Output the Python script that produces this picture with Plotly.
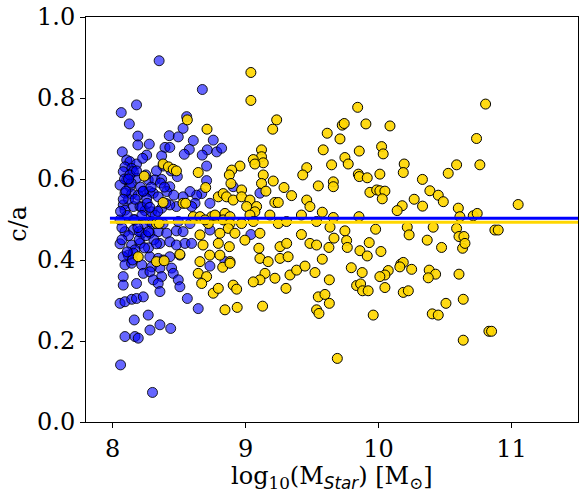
import plotly.graph_objects as go

blue_x = [8.35,8.675,8.18,8.065,8.126,8.557,8.53,8.19,8.19,8.276,8.426,8.494,8.607,8.757,8.394,8.43,8.577,8.539,8.712,8.674,
8.783,8.073,8.256,8.369,8.106,8.13,8.18,8.093,8.144,8.226,8.487,8.38,8.707,8.08,8.156,8.106,8.18,8.268,8.319,8.369,
8.43,8.407,8.707,8.67,8.632,8.582,8.53,8.732,8.056,8.13,8.093,8.144,8.193,8.23,8.28,8.306,8.343,8.256,8.48,8.43,
8.369,8.62,8.595,8.08,8.093,8.156,8.206,8.244,8.294,8.093,8.156,8.219,8.28,8.343,8.407,8.48,8.53,8.056,8.168,8.28,
8.494,8.582,8.82,8.907,9.108,8.732,9.04,
8.056,8.143,8.206,8.168,8.118,8.08,8.156,8.356,8.43,8.48,8.544,8.594,8.28,8.343,8.381,8.43,8.506,8.093,8.143,8.219,
8.231,8.294,8.281,8.356,8.369,8.444,8.456,8.494,8.506,8.08,8.08,8.18,8.306,8.343,8.356,8.056,8.093,8.144,8.18,8.231,
8.562,8.644,8.163,8.268,8.356,8.281,8.437,8.093,8.168,8.193,8.06,8.30,8.732,8.845,
8.12,8.21,8.25,8.33,8.07,8.11,8.24,8.31,8.38,8.40,8.46,8.20,8.27,8.12,8.36,8.44,8.10,8.06,8.15,8.22,
8.09,8.14,8.17,8.23,8.26,8.29,8.32,8.07,8.11,8.16,8.20,8.25,8.30,8.34,8.08,8.13,8.19,8.24,8.28,8.12,8.18,8.22,8.27,8.33,8.39]
blue_y = [0.892,0.821,0.783,0.764,0.736,0.754,0.725,0.706,0.684,0.686,0.707,0.704,0.695,0.696,0.678,0.678,0.673,0.661,0.672,0.659,
0.667,0.667,0.659,0.657,0.647,0.643,0.637,0.630,0.626,0.651,0.606,0.632,0.632,0.618,0.618,0.598,0.602,0.598,0.598,0.599,
0.581,0.569,0.596,0.564,0.560,0.569,0.556,0.540,0.585,0.581,0.565,0.563,0.560,0.569,0.569,0.565,0.556,0.552,0.532,0.536,
0.528,0.540,0.532,0.536,0.523,0.532,0.532,0.522,0.519,0.470,0.474,0.466,0.466,0.470,0.466,0.472,0.470,0.499,0.499,0.495,
0.495,0.490,0.676,0.581,0.565,0.474,0.463,
0.440,0.437,0.441,0.425,0.412,0.408,0.417,0.441,0.445,0.437,0.441,0.441,0.408,0.404,0.400,0.408,0.412,0.388,0.392,0.388,
0.367,0.383,0.371,0.380,0.359,0.380,0.367,0.351,0.334,0.359,0.338,0.342,0.351,0.342,0.322,0.293,0.297,0.303,0.305,0.309,
0.305,0.280,0.252,0.264,0.240,0.227,0.231,0.211,0.211,0.207,0.141,0.073,0.385,0.396,
0.55,0.58,0.61,0.62,0.48,0.51,0.49,0.45,0.49,0.54,0.56,0.45,0.43,0.46,0.59,0.62,0.57,0.52,0.40,0.53,
0.60,0.59,0.55,0.57,0.54,0.58,0.51,0.45,0.42,0.50,0.47,0.46,0.49,0.52,0.55,0.61,0.48,0.43,0.53,0.60,0.62,0.51,0.47,0.44,0.58]

gold_x = [8.562,8.71,8.38,8.42,8.456,8.48,8.644,8.238,8.70,8.795,8.38,8.53,8.55,8.607,8.657,8.745,8.783,8.33,8.35,8.72,8.657,
8.193,8.33,8.388,8.506,8.68,8.73,8.657,8.644,8.707,8.67,8.757,8.795,8.795,
9.04,9.04,9.234,9.204,9.12,9.12,9.058,9.133,9.07,8.958,8.896,8.878,9.46,9.43,9.547,9.133,9.12,9.208,9.153,9.289,9.346,
8.89,8.832,8.857,8.907,8.97,8.97,9.033,9.008,9.083,9.07,9.22,9.246,9.46,9.484,8.845,8.832,8.883,8.77,8.695,9.033,9.058,
8.97,8.883,9.183,9.246,9.308,9.42,9.534,8.87,8.92,8.807,9.108,9.42,
8.878,8.995,9.10,9.259,9.309,9.484,9.534,8.807,8.883,8.828,8.883,9.108,9.17,9.259,9.32,9.334,9.384,9.447,9.522,9.146,
9.108,9.058,9.221,9.304,8.907,8.933,8.845,8.937,9.128,9.534,9.547,
9.843,9.727,9.742,9.905,10.086,9.614,9.71,9.584,9.855,10.023,10.035,9.747,9.772,9.647,10.193,10.186,10.587,10.524,9.848,9.855,
9.915,10.01,9.66,9.66,10.33,10.386,10.449,10.487,9.935,9.986,10.01,10.048,10.028,10.268,10.331,10.178,10.14,9.577,9.66,9.853,
10.6,10.612,9.635,9.747,9.978,10.216,10.23,10.411,10.587,10.605,9.665,9.627,9.76,9.765,9.93,9.86,9.915,10.018,10.366,10.474,
10.632,9.577,9.795,9.877,10.073,10.048,10.01,10.168,10.186,10.16,10.249,10.381,10.429,10.374,10.605,9.63,9.835,9.865,9.88,9.922,
10.048,10.186,10.224,9.597,9.63,9.552,9.96,10.404,10.449,10.507,9.69,
10.805,10.737,10.762,11.05,10.712,10.742,10.642,10.65,10.875,10.9,10.637,10.83,10.85,10.637]
gold_y = [0.746,0.723,0.637,0.630,0.624,0.620,0.616,0.607,0.579,0.556,0.542,0.540,0.540,0.507,0.507,0.507,0.507,0.490,0.490,0.490,0.462,
0.408,0.396,0.398,0.414,0.437,0.412,0.396,0.367,0.359,0.342,0.318,0.330,0.441,
0.863,0.794,0.746,0.723,0.672,0.655,0.648,0.640,0.637,0.632,0.622,0.610,0.628,0.610,0.583,0.610,0.589,0.595,0.570,0.579,0.559,
0.589,0.564,0.556,0.548,0.573,0.556,0.548,0.532,0.532,0.519,0.542,0.542,0.548,0.532,0.515,0.499,0.507,0.511,0.499,0.511,0.495,
0.490,0.490,0.511,0.490,0.495,0.511,0.495,0.478,0.466,0.466,0.466,0.463,
0.433,0.449,0.429,0.433,0.441,0.441,0.437,0.412,0.396,0.382,0.392,0.404,0.396,0.404,0.408,0.363,0.375,0.385,0.369,0.367,
0.351,0.346,0.355,0.330,0.338,0.328,0.277,0.283,0.286,0.277,0.309,
0.777,0.733,0.737,0.736,0.731,0.713,0.699,0.672,0.669,0.680,0.662,0.653,0.637,0.635,0.637,0.616,0.635,0.614,0.612,0.606,
0.603,0.612,0.593,0.581,0.599,0.571,0.560,0.544,0.567,0.573,0.571,0.570,0.551,0.550,0.533,0.534,0.522,0.518,0.505,0.507,
0.528,0.507,0.481,0.472,0.476,0.481,0.462,0.481,0.478,0.458,0.454,0.431,0.448,0.431,0.443,0.423,0.410,0.421,0.449,0.431,
0.429,0.402,0.381,0.369,0.374,0.363,0.359,0.390,0.394,0.383,0.377,0.375,0.365,0.356,0.365,0.351,0.337,0.341,0.324,0.324,
0.332,0.320,0.324,0.315,0.293,0.268,0.264,0.267,0.264,0.293,0.157,
0.785,0.700,0.635,0.537,0.509,0.515,0.458,0.441,0.474,0.474,0.303,0.224,0.224,0.202]

line_x = [7.98, 11.5]
blue_mean = 0.503
gold_mean = 0.493

x_ticks = [8, 9, 10, 11]
y_ticks = [0.0, 0.2, 0.4, 0.6, 0.8, 1.0]

fig = go.Figure()
fig.add_trace(go.Scatter(x=blue_x, y=blue_y, mode="markers",
    marker=dict(size=10, color="rgba(0,0,255,0.6)", line=dict(color="rgba(0,0,0,0.85)", width=1))))
fig.add_trace(go.Scatter(x=gold_x, y=gold_y, mode="markers",
    marker=dict(size=10, color="rgba(255,215,0,0.92)", line=dict(color="black", width=1))))
fig.add_trace(go.Scatter(x=line_x, y=[blue_mean]*2, mode="lines", line=dict(color="#0000ff", width=3)))
fig.add_trace(go.Scatter(x=line_x, y=[gold_mean]*2, mode="lines", line=dict(color="#ffd700", width=3)))

font = dict(family="DejaVu Serif", size=24, color="black")
fig.update_layout(
    width=584, height=494,
    margin=dict(l=86, r=6, t=17, b=72),
    paper_bgcolor="white", plot_bgcolor="white",
    showlegend=False, font=font,
    xaxis=dict(range=[7.8, 11.5], tickvals=x_ticks, ticktext=[str(t) for t in x_ticks],
               showgrid=False, zeroline=False, showline=True, linecolor="black", linewidth=1, mirror=True,
               ticks="outside", ticklen=5, tickcolor="black", tickfont=font, automargin=False),
    yaxis=dict(range=[0, 1], tickvals=y_ticks, ticktext=[f"{t:.1f}" for t in y_ticks],
               showgrid=False, zeroline=False, showline=True, linecolor="black", linewidth=1, mirror=True,
               ticks="outside", ticklen=5, tickcolor="black", tickfont=font, automargin=False),
    annotations=[
        dict(text="log<sub>10</sub>(M<sub><span style=\"font-family:'DejaVu Sans'\"><i>Star</i></span></sub>) [M<sub>⊙</sub>]",
             xref="paper", yref="paper",
             x=0.5, y=-0.095, xanchor="center", yanchor="top", showarrow=False, font=font),
        dict(text="c/a", xref="paper", yref="paper", x=-0.14, y=0.49, xanchor="center", yanchor="middle",
             textangle=-90, showarrow=False, font=font),
    ],
)
fig.write_html("out.html", config={"displayModeBar": False},
               post_script="document.body.style.margin='0';document.body.style.overflow='hidden';")
